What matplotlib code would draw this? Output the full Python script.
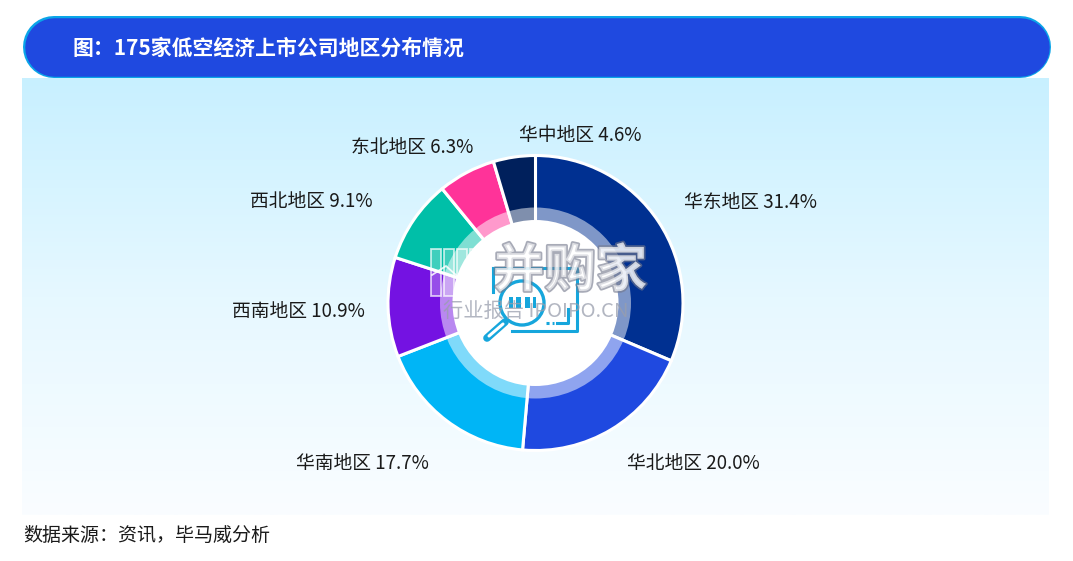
import numpy as np
import matplotlib
matplotlib.use("Agg")
import matplotlib.pyplot as plt
from matplotlib.patches import Circle, Rectangle
from matplotlib.colors import LinearSegmentedColormap
import matplotlib.patheffects as pe

plt.rcParams['font.family'] = ['Noto Sans CJK SC', 'DejaVu Sans']

regions = ['华东地区', '华北地区', '华南地区', '西南地区', '西北地区', '东北地区', '华中地区']
shares = [31.4, 20.0, 17.7, 10.9, 9.1, 6.3, 4.6]
colors = ['#003091', '#1f49e0', '#00b5f6', '#7412e2', '#00bfa8', '#ff3399', '#00205c']
label_x = [684, 627, 296, 232, 250, 351, 519]
label_y = [202.5, 463.5, 463.5, 311.5, 201.5, 147.5, 135.5]
title = '图：175家低空经济上市公司地区分布情况'
source = '数据来源：资讯，毕马威分析'

W, H = 1073, 561
PX = 0.72  # points per pixel at dpi 100
fig = plt.figure(figsize=(W / 100, H / 100), dpi=100, facecolor='white')
ax = fig.add_axes([0, 0, 1, 1])


def Y(y):
    return H - y


# background gradient panel
cmap = LinearSegmentedColormap.from_list('bg', ['#c8f0ff', '#e6f8ff', '#fafdff'])
ax.imshow(np.linspace(0, 1, 256)[:, None], cmap=cmap, aspect='auto',
          extent=(22, 1049, Y(515), Y(78)), zorder=0)

# title banner: thick round-capped strokes give a true pill shape
ax.plot([54, 1020], [Y(46.5), Y(46.5)], color='#0aa5e8', lw=62 * PX, solid_capstyle='round', zorder=2)
ax.plot([54, 1020], [Y(46.5), Y(46.5)], color='#1f49e0', lw=58.5 * PX, solid_capstyle='round', zorder=2)
ax.text(72, Y(48), title, color='white', fontsize=15, fontweight='bold',
        va='center', ha='left', zorder=3)

# donut
cx, cy, R = 535.5, Y(303), 147.5
ax.pie(shares, colors=colors, startangle=90, counterclock=False, center=(cx, cy), radius=R,
       wedgeprops=dict(edgecolor='white', linewidth=2.2), frame=False)
ax.add_patch(Circle((cx, cy), 95.5, fc='white', ec='none', alpha=0.5, zorder=3))
ax.add_patch(Circle((cx, cy), 83, fc='white', ec='none', zorder=3))

# slice labels
for name, val, x, y in zip(regions, shares, label_x, label_y):
    ax.text(x, Y(y), f'{name} {val:.1f}%', fontsize=13.5, color='#1a1a1a',
            ha='left', va='center', zorder=6)

# source
ax.text(23.5, Y(535), source, fontsize=13.7, color='#1a1a1a', ha='left', va='center', zorder=6)

# centre icon
ic = '#16a6dc'
ax.plot([493, 493], [Y(268), Y(292)], color=ic, lw=2.2, zorder=4)
ax.plot([493, 577, 577, 512], [Y(268), Y(268), Y(331), Y(331)], color=ic, lw=2.2, zorder=4)
ax.plot([568, 568, 557], [Y(309), Y(323), Y(323)], color=ic, lw=2.2, zorder=4)
ax.plot([546, 554], [Y(323), Y(323)], color=ic, lw=2.2, ls=(0, (1, 1)), zorder=4)
ax.add_patch(Circle((522, Y(303)), 22, fc='white', ec=ic, lw=2.4, zorder=4))
for bx, bw in zip([509, 516, 525, 533], [4, 5, 5, 3]):
    ax.add_patch(Rectangle((bx, Y(308)), bw, 11, fc=ic, ec='none', zorder=5))
ax.plot([505, 487], [Y(322), Y(338)], color=ic, lw=5.5, solid_capstyle='round', zorder=4)
ax.plot([503, 489], [Y(324), Y(336)], color='white', lw=2.2, solid_capstyle='round', zorder=4)

# watermark
shadow = [pe.withStroke(linewidth=2.5, foreground=(0.45, 0.47, 0.55, 0.22))]
ax.text(570, Y(271), '并购家', fontsize=37, color='white', alpha=0.62, ha='center', va='center',
        fontweight='bold', path_effects=shadow, zorder=7)
for lx in [431, 444, 457, 470]:
    ax.add_patch(Rectangle((lx, Y(296)), 10, 47, fc=(1, 1, 1, 0.25),
                           ec=(1, 1, 1, 0.7), lw=1.3, zorder=7))
ax.plot([432, 446, 465, 486], [Y(275), Y(266), Y(283), Y(270)], color=(1, 1, 1, 0.85),
        lw=1.3, zorder=7)
ax.text(536, Y(311), '行业报告 IPOIPO.CN', fontsize=14.6, color=(0.6, 0.62, 0.68, 0.75),
        ha='center', va='center', zorder=7)

ax.set_xlim(0, W)
ax.set_ylim(0, H)
ax.axis('off')
fig.savefig('out.png', dpi=100, facecolor='white')
